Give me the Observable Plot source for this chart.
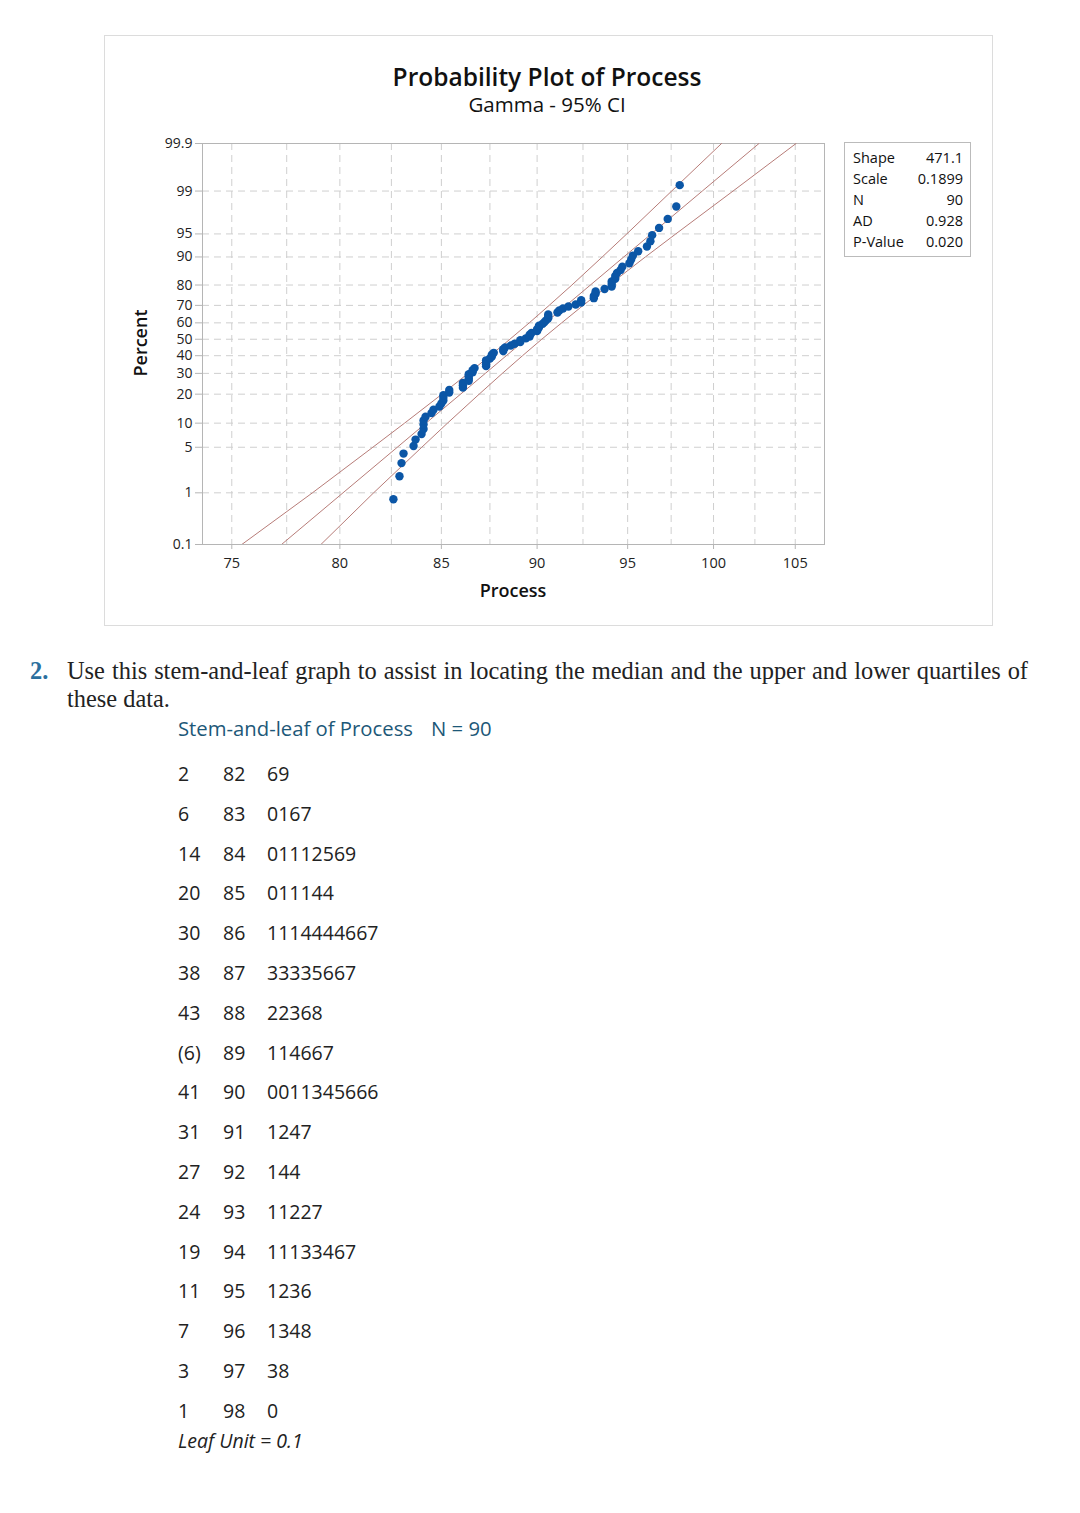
<!DOCTYPE html>
<html>
<head>
<meta charset="utf-8">
<script src="https://cdn.jsdelivr.net/npm/d3@7"></script>
<script src="https://cdn.jsdelivr.net/npm/@observablehq/plot@0.6"></script>
<style>
  html, body { margin: 0; padding: 0; background: #fff; }
  body { width: 1080px; height: 1513px; position: relative; font-family: "Open Sans", "Noto Sans", sans-serif; color: #222; }
  .abs { position: absolute; white-space: nowrap; }
  #box { position: absolute; left: 104px; top: 35px; width: 887px; height: 589px; border: 1px solid #dcdcdc; }
  #chart { position: absolute; left: 104px; top: 124px; }
  .title { font-size: 24.5px; font-weight: 600; color: #111; }
  .subtitle { font-size: 20.5px; font-weight: 500; color: #111; }
  .axlab { font-size: 18px; font-weight: 600; color: #111; }
  #legend { position: absolute; left: 844px; top: 142px; width: 125px; height: 113px; border: 1px solid #bbb; background: #fff; font-size: 14.5px; color: #111; }
  #legend .row { position: absolute; left: 8px; right: 7px; height: 20px; line-height: 20px; }
  #legend .row span.v { position: absolute; right: 0; }
  .serif { font-family: "Liberation Serif", "Times New Roman", serif; font-size: 24.4px; color: #222; }
  .sl { font-size: 19.5px; color: #222; }
  .slt { font-size: 20.3px; color: #1d5878; }
</style>
</head>
<body>
<div id="box"></div>
<div class="abs title" id="t1"></div>
<div class="abs subtitle" id="t2"></div>
<div id="chart"></div>
<div class="abs axlab" id="ylab"></div>
<div class="abs axlab" id="xlab"></div>
<div id="legend"></div>
<div id="question"></div>
<div id="stemleaf"></div>
<script>
// ---------------- data ----------------
const chartTitle = "Probability Plot of Process";
const chartSubtitle = "Gamma - 95% CI";
const xLabel = "Process";
const yLabel = "Percent";

// stem-and-leaf display (Leaf Unit = 0.1)
const slCounts = ["2", "6", "14", "20", "30", "38", "43", "(6)", "41", "31", "27", "24", "19", "11", "7", "3", "1"];
const slStems = [82, 83, 84, 85, 86, 87, 88, 89, 90, 91, 92, 93, 94, 95, 96, 97, 98];
const slLeaves = ["69", "0167", "01112569", "011144", "1114444667", "33335667", "22368", "114667", "0011345666", "1247", "144", "11227", "11133467", "1236", "1348", "38", "0"];
const leafUnit = 0.1;

// x axis ticks and grid
const xTicks = [75, 80, 85, 90, 95, 100, 105];
const xGrid = [75, 77.5, 80, 82.5, 85, 87.5, 90, 92.5, 95, 97.5, 100, 102.5, 105];
const xDomain = [73.7, 106.85];

// y axis (percent) ticks
const yTicks = [0.1, 1, 5, 10, 20, 30, 40, 50, 60, 70, 80, 90, 95, 99, 99.9];

// fitted line and 95% CI read at each percent level
const ciPercent = [0.1, 1, 5, 10, 20, 30, 40, 50, 60, 70, 80, 90, 95, 99, 99.9];
const fitX   = [77.26, 80.15, 82.79, 84.22, 85.98, 87.26, 88.36, 89.40, 90.45, 91.58, 92.91, 94.78, 96.35, 99.33, 102.75];
const ciLower = [75.45, 78.70, 81.59, 83.15, 85.03, 86.37, 87.51, 88.55, 89.58, 90.65, 91.89, 93.57, 94.95, 97.53, 100.48];
const ciUpper = [79.10, 81.63, 84.01, 85.31, 86.94, 88.15, 89.22, 90.25, 91.33, 92.51, 93.95, 96.01, 97.77, 101.17, 105.05];

// statistics table
const statLabels = ["Shape", "Scale", "N", "AD", "P-Value"];
const statValues = ["471.1", "0.1899", "90", "0.928", "0.020"];
const gammaShape = 471.1;

const questionLine1 = "Use this stem-and-leaf graph to assist in locating the median and the upper and lower quartiles of";
const questionLine2 = "these data.";
const slTitle = "Stem-and-leaf of Process";
const slTitleN = "N = 90";
const slFooter = "Leaf Unit = 0.1";

// ---------------- helpers ----------------
function qnorm(p) {
  const a = [-3.969683028665376e+01, 2.209460984245205e+02, -2.759285104469687e+02, 1.383577518672690e+02, -3.066479806614716e+01, 2.506628277459239e+00];
  const b = [-5.447609879822406e+01, 1.615858368580409e+02, -1.556989798598866e+02, 6.680131188771972e+01, -1.328068155288572e+01];
  const c = [-7.784894002430293e-03, -3.223964580411365e-01, -2.400758277161838e+00, -2.549671348344732e+00, 4.374664141464968e+00, 2.938163982698783e+00];
  const d = [7.784695709041462e-03, 3.224671290700398e-01, 2.445134137142996e+00, 3.754408661907416e+00];
  const pl = 0.02425;
  if (p < pl) {
    const q = Math.sqrt(-2 * Math.log(p));
    return (((((c[0]*q+c[1])*q+c[2])*q+c[3])*q+c[4])*q+c[5]) / ((((d[0]*q+d[1])*q+d[2])*q+d[3])*q+1);
  }
  if (p <= 1 - pl) {
    const q = p - 0.5, r = q * q;
    return (((((a[0]*r+a[1])*r+a[2])*r+a[3])*r+a[4])*r+a[5])*q / (((((b[0]*r+b[1])*r+b[2])*r+b[3])*r+b[4])*r+1);
  }
  const q = Math.sqrt(-2 * Math.log(1 - p));
  return -(((((c[0]*q+c[1])*q+c[2])*q+c[3])*q+c[4])*q+c[5]) / ((((d[0]*q+d[1])*q+d[2])*q+d[3])*q+1);
}
// gamma probability-paper position (log of standardized gamma quantile, Wilson-Hilferty)
const cW = 1 / (9 * gammaShape);
const tf = (pct) => 3 * Math.log(1 - cW + qnorm(pct / 100) * Math.sqrt(cW));

// ---------------- derived tables ----------------
const values = [];
slStems.forEach((s, i) => {
  for (const ch of slLeaves[i]) values.push(Math.round((s + (+ch) * leafUnit) * 10) / 10);
});
values.sort((a, b) => a - b);
const n = values.length;
const points = values.map((v, i) => ({x: v, y: tf((i + 1 - 0.3) / (n + 0.4) * 100)}));

const ciRows = ciPercent.map((p, i) => ({y: tf(p), fit: fitX[i], lo: ciLower[i], hi: ciUpper[i]}));
const yLabelMap = new Map(yTicks.map(p => [tf(p), String(p)]));
const yTickPos = yTicks.map(tf);

const lineColor = "#b77c78";
const dotColor = "#0b56a6";
const gridStyle = {stroke: "#cfcfcf", strokeOpacity: 1, strokeDasharray: "7,5", strokeWidth: 1};

const chart = Plot.plot({
  width: 889,
  height: 450,
  marginLeft: 98,
  marginRight: 169,
  marginTop: 19,
  marginBottom: 30,
  style: {fontFamily: "'Open Sans', 'Noto Sans', sans-serif", fontSize: "14px", color: "#222", background: "transparent"},
  x: {type: "log", domain: xDomain},
  y: {type: "linear", domain: [tf(0.1), tf(99.9)]},
  marks: [
    Plot.gridX(xGrid, gridStyle),
    Plot.gridY(yTickPos, gridStyle),
    Plot.frame({stroke: "#b5b5b5"}),
    Plot.axisX(xTicks, {tickSize: 5, tickPadding: 8, stroke: "#b5b5b5", tickFormat: d => String(d), label: null, fill: "#222", fontSize: 14.5}),
    Plot.axisY(yTickPos, {tickSize: 7, tickPadding: 3, stroke: "#b5b5b5", tickFormat: d => yLabelMap.get(d), label: null, fill: "#222", fontSize: 14}),
    Plot.line(ciRows, {x: "lo", y: "y", stroke: lineColor, strokeWidth: 1, clip: true}),
    Plot.line(ciRows, {x: "fit", y: "y", stroke: lineColor, strokeWidth: 1, clip: true}),
    Plot.line(ciRows, {x: "hi", y: "y", stroke: lineColor, strokeWidth: 1, clip: true}),
    Plot.dot(points, {x: "x", y: "y", r: 4.2, fill: dotColor, stroke: "none"})
  ]
});
document.getElementById("chart").appendChild(chart);

// titles
const t1 = document.getElementById("t1");
t1.textContent = chartTitle;
const t2 = document.getElementById("t2");
t2.textContent = chartSubtitle;
function centerAt(el, cx, cy) {
  const r = el.getBoundingClientRect();
  el.style.left = (cx - r.width / 2) + "px";
  el.style.top = (cy - r.height / 2) + "px";
}
centerAt(t1, 547, 76);
centerAt(t2, 547, 104);
const xl = document.getElementById("xlab");
xl.textContent = xLabel;
centerAt(xl, 513, 590);
const yl = document.getElementById("ylab");
yl.textContent = yLabel;
centerAt(yl, 140, 343);
yl.style.transform = "rotate(-90deg)";

// legend
const lg = document.getElementById("legend");
statLabels.forEach((s, i) => {
  const row = document.createElement("div");
  row.className = "row";
  row.style.top = (5 + i * 21.1) + "px";
  row.innerHTML = `<span>${s}</span><span class="v">${statValues[i]}</span>`;
  lg.appendChild(row);
});

// question text
const q = document.getElementById("question");
q.innerHTML = `
  <div class="abs serif" style="left:30px;top:657px;font-weight:bold;color:#2b6f9e;">2.</div>
  <div class="abs serif" style="left:67px;top:657px;width:961px;text-align:justify;text-align-last:justify;">${questionLine1}</div>
  <div class="abs serif" style="left:67px;top:685px;">${questionLine2}</div>
  <div class="abs slt" style="left:178px;top:714px;">${slTitle}</div>
  <div class="abs slt" style="left:431px;top:714px;">${slTitleN}</div>
`;

// stem-and-leaf rows
const sl = document.getElementById("stemleaf");
slStems.forEach((s, i) => {
  const top = 760 + i * 39.8;
  sl.insertAdjacentHTML("beforeend",
    `<div class="abs sl" style="left:178px;top:${top}px;">${slCounts[i]}</div>` +
    `<div class="abs sl" style="left:223px;top:${top}px;">${s}</div>` +
    `<div class="abs sl" style="left:267px;top:${top}px;">${slLeaves[i]}</div>`);
});
sl.insertAdjacentHTML("beforeend", `<div class="abs sl" style="left:178px;top:1427px;font-style:italic;">${slFooter}</div>`);
</script>
</body>
</html>
